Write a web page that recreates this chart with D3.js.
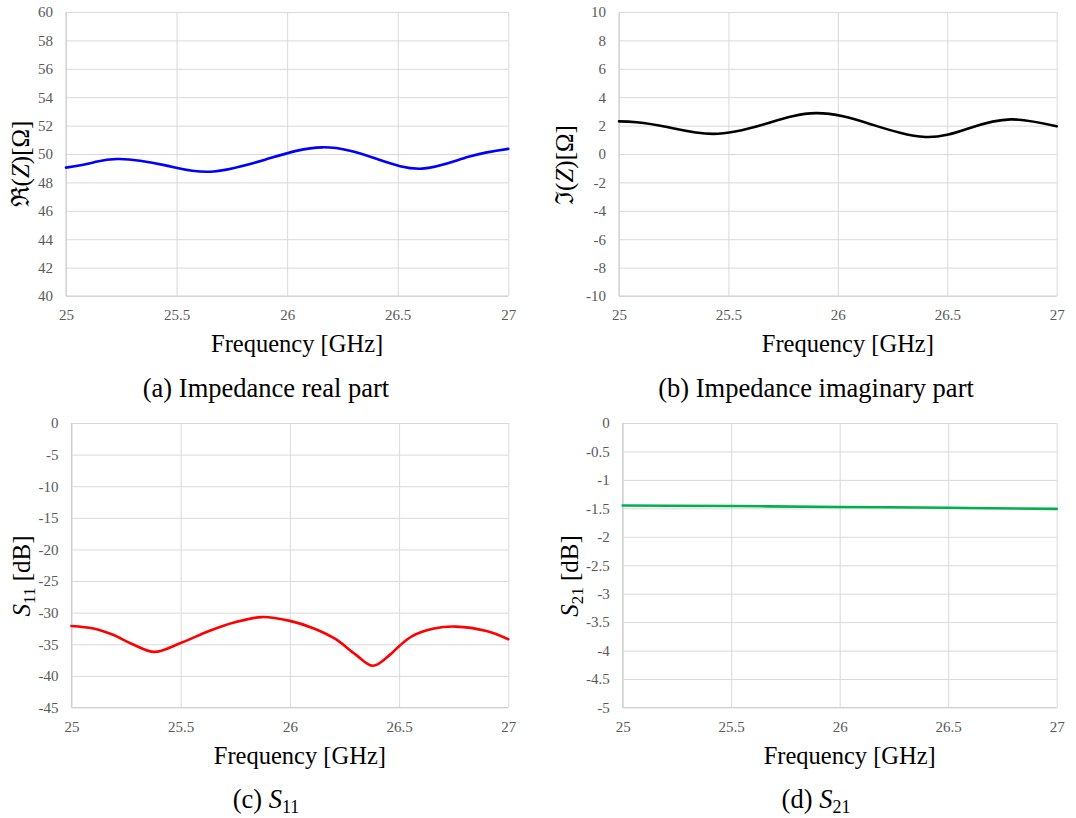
<!DOCTYPE html>
<html>
<head>
<meta charset="utf-8">
<script src="https://cdn.jsdelivr.net/npm/d3@7/dist/d3.min.js"></script>
<style>
  html, body { margin: 0; padding: 0; background: #fff; }
  svg { display: block; }
</style>
</head>
<body>
<svg id="fig" width="1076" height="818"></svg>
<script>
const SERIF = "'Liberation Serif', 'Times New Roman', serif";

// (a) Input impedance, real part (ohm) vs frequency (GHz)
const reFreq = [25.00, 25.12, 25.24, 25.45, 25.65, 25.90, 26.16, 26.40, 26.61, 26.82, 27.00];
const reZ    = [49.04, 49.39, 49.65, 49.20, 48.75, 49.60, 50.47, 49.68, 48.97, 49.80, 50.36];

// (b) Input impedance, imaginary part (ohm)
const imFreq = [25.00, 25.08, 25.22, 25.43, 25.66, 25.90, 26.15, 26.40, 26.60, 26.79, 27.00];
const imZ    = [2.30, 2.24, 1.90, 1.42, 2.08, 2.88, 2.10, 1.20, 1.82, 2.44, 1.95];

// (c) Reflection coefficient S11 (dB)
const s11Freq = [25.00, 25.10, 25.19, 25.28, 25.38, 25.50, 25.63, 25.74, 25.87, 26.00, 26.11,
                 26.21, 26.30, 26.38, 26.46, 26.50, 26.56, 26.66, 26.76, 26.90, 27.00];
const s11dB   = [-32.1, -32.5, -33.5, -35.0, -36.2, -34.8, -32.9, -31.6, -30.7, -31.3, -32.5,
                 -34.2, -36.6, -38.4, -36.6, -35.3, -33.7, -32.5, -32.2, -32.9, -34.2];

// (d) Transmission coefficient S21 (dB)
const s21Freq = [25.0, 25.5, 26.0, 26.5, 27.0];
const s21dB   = [-1.45, -1.46, -1.475, -1.49, -1.51];

// Axis tick values
const freqTicks = [25, 25.5, 26, 26.5, 27];
const reTicks  = [40, 42, 44, 46, 48, 50, 52, 54, 56, 58, 60];
const imTicks  = [-10, -8, -6, -4, -2, 0, 2, 4, 6, 8, 10];
const s11Ticks = [-45, -40, -35, -30, -25, -20, -15, -10, -5, 0];
const s21Ticks = [-5, -4.5, -4, -3.5, -3, -2.5, -2, -1.5, -1, -0.5, 0];

const svg = d3.select("#fig");

const panels = [
  { box: [66, 12, 508.3, 296], x: reFreq, y: reZ, yTicks: reTicks, yDom: [40, 60], color: "#0000ff",
    curve: d3.curveNatural,
    yTitle: [["ℜ(", null], ["Z", "italic"], [")[Ω]", null]], yTitleX: 29, yTitleY: 164,
    caption: [["(a) Impedance real part", null]], capX: 266, capY: 397 },
  { box: [619, 12, 1056.7, 296], x: imFreq, y: imZ, yTicks: imTicks, yDom: [-10, 10], color: "#000000",
    curve: d3.curveNatural,
    yTitle: [["ℑ(", null], ["Z", "italic"], [")[Ω]", null]], yTitleX: 573, yTitleY: 165,
    caption: [["(b) Impedance imaginary part", null]], capX: 816, capY: 397 },
  { box: [71.5, 423, 508.3, 707.5], x: s11Freq, y: s11dB, yTicks: s11Ticks, yDom: [-45, 0], color: "#ff0000",
    curve: d3.curveCatmullRom.alpha(0.5),
    yTitle: [["S", "italic"], ["11", "sub"], [" [dB]", "after"]], yTitleX: 30, yTitleY: 576,
    caption: [["(c) ", null], ["S", "italic"], ["11", "sub"]], capX: 266, capY: 808 },
  { box: [622.7, 423, 1056.7, 707.5], x: s21Freq, y: s21dB, yTicks: s21Ticks, yDom: [-5, 0], color: "#00b050",
    curve: d3.curveNatural,
    yTitle: [["S", "italic"], ["21", "sub"], [" [dB]", "after"]], yTitleX: 578, yTitleY: 576,
    caption: [["(d) ", null], ["S", "italic"], ["21", "sub"]], capX: 816, capY: 808 }
];

function addRich(textSel, parts, fontSize) {
  parts.forEach(([s, style]) => {
    const t = textSel.append("tspan").text(s);
    if (style === "italic") t.attr("font-style", "italic");
    if (style === "sub") t.attr("font-size", fontSize * 0.68).attr("dy", fontSize * 0.18);
    if (style === "after") t.attr("dy", -fontSize * 0.18);
  });
}

panels.forEach(p => {
  const [x0, y0, x1, y1] = p.box;
  const xs = d3.scaleLinear().domain([25, 27]).range([x0, x1]);
  const ys = d3.scaleLinear().domain(p.yDom).range([y1, y0]);
  const g = svg.append("g");

  // horizontal gridlines + value tick labels
  const ya = g.append("g").attr("transform", `translate(${x0},0)`)
    .call(d3.axisLeft(ys).tickValues(p.yTicks).tickFormat(d => String(d))
      .tickSize(-(x1 - x0)).tickPadding(13));
  ya.attr("font-family", SERIF).attr("font-size", 15);
  ya.select(".domain").remove();
  ya.selectAll(".tick line").attr("stroke", "#d9d9d9").attr("stroke-width", 1);
  ya.selectAll(".tick text").attr("fill", "#595959");

  // vertical gridlines + frequency tick labels
  const xa = g.append("g").attr("transform", `translate(0,${y1})`)
    .call(d3.axisBottom(xs).tickValues(freqTicks).tickFormat(d => String(d))
      .tickSize(-(y1 - y0)).tickPadding(0));
  xa.attr("font-family", SERIF).attr("font-size", 15);
  xa.select(".domain").remove();
  xa.selectAll(".tick line").attr("stroke", "#d9d9d9").attr("stroke-width", 1);
  xa.selectAll(".tick text").attr("fill", "#595959").attr("dy", null).attr("y", 24);

  // axis lines
  g.append("line").attr("x1", x0).attr("x2", x0).attr("y1", y0).attr("y2", y1)
    .attr("stroke", "#d0d0d0").attr("stroke-width", 1.2);
  g.append("line").attr("x1", x0).attr("x2", x1).attr("y1", y1).attr("y2", y1)
    .attr("stroke", "#d0d0d0").attr("stroke-width", 1.2);

  // data curve
  const pts = p.x.map((f, i) => [f, p.y[i]]);
  g.append("path").datum(pts)
    .attr("fill", "none").attr("stroke", p.color).attr("stroke-width", 2.6)
    .attr("stroke-linejoin", "round").attr("stroke-linecap", "round")
    .attr("d", d3.line().x(d => xs(d[0])).y(d => ys(d[1])).curve(p.curve));

  // frequency axis title
  g.append("text").attr("font-family", SERIF).attr("fill", "#000")
    .attr("x", (x0 + x1) / 2 + 10).attr("y", y1 + 56)
    .attr("text-anchor", "middle").attr("font-size", 24.5)
    .text("Frequency [GHz]");

  // value axis title
  const yt = g.append("text").attr("font-family", SERIF).attr("fill", "#000")
    .attr("transform", `translate(${p.yTitleX},${p.yTitleY}) rotate(-90)`)
    .attr("text-anchor", "middle").attr("font-size", 25);
  addRich(yt, p.yTitle, 25);

  // caption
  const cp = g.append("text").attr("font-family", SERIF).attr("fill", "#000")
    .attr("x", p.capX).attr("y", p.capY)
    .attr("text-anchor", "middle").attr("font-size", 26.5);
  addRich(cp, p.caption, 26.5);
});
</script>
</body>
</html>
